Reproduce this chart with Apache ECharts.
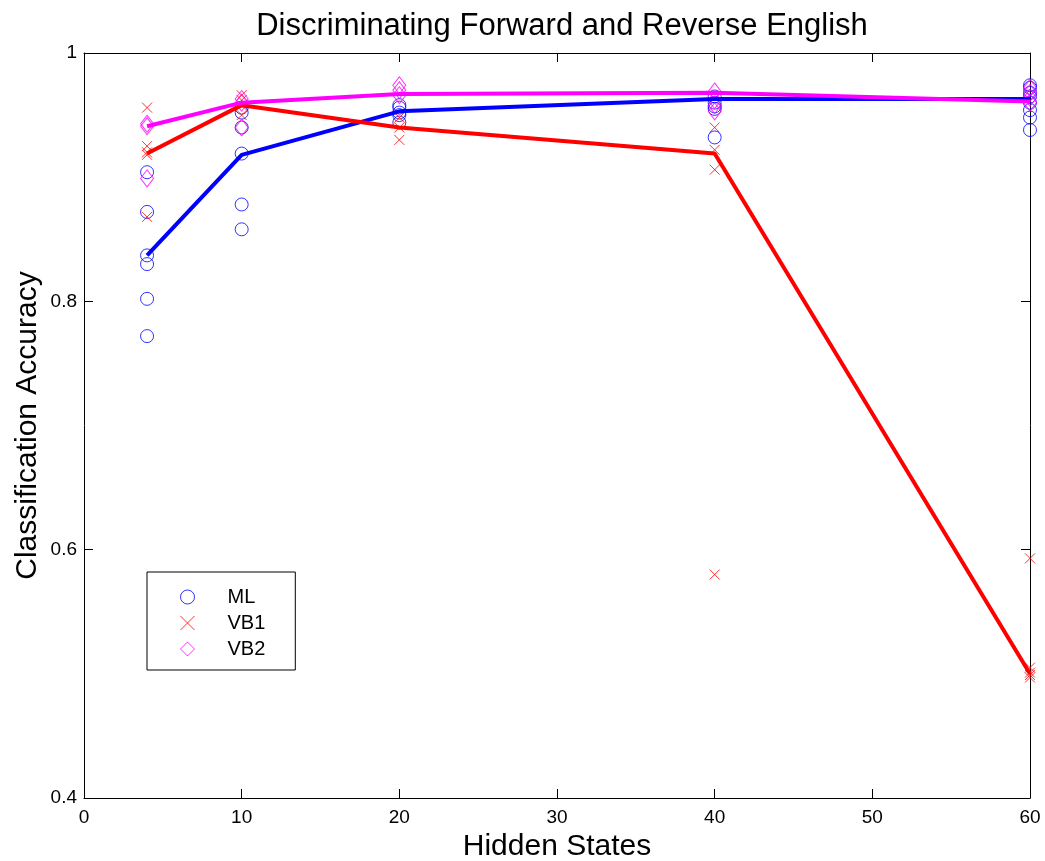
<!DOCTYPE html>
<html>
<head>
<meta charset="utf-8">
<script src="https://cdn.jsdelivr.net/npm/echarts@6/dist/echarts.min.js"></script>
<style>html,body{margin:0;padding:0;background:#fff}#c{width:1045px;height:861px}</style>
</head>
<body>
<div id="c"></div>
<script>
// ---- data ----
const hiddenStates = [4, 10, 20, 40, 60];
const mlLine  = [0.837, 0.918, 0.953, 0.963, 0.963];
const vb1Line = [0.919, 0.958, 0.940, 0.919, 0.500];
const vb2Line = [0.941, 0.960, 0.967, 0.968, 0.961];
const mlRuns = [
  [0.904, 0.872, 0.837, 0.830, 0.802, 0.772],
  [0.956, 0.952, 0.940, 0.919, 0.878, 0.858],
  [0.958, 0.956, 0.952, 0.950, 0.944],
  [0.965, 0.960, 0.957, 0.955, 0.932],
  [0.974, 0.972, 0.968, 0.965, 0.960, 0.954, 0.948, 0.938]
];
const vb1Runs = [
  [0.956, 0.925, 0.920, 0.918, 0.868],
  [0.966, 0.962, 0.958, 0.950],
  [0.948, 0.940, 0.930],
  [0.940, 0.922, 0.906, 0.580],
  [0.593, 0.505, 0.501, 0.499, 0.497]
];
const vb2Runs = [
  [0.943, 0.941, 0.899],
  [0.963, 0.960, 0.940],
  [0.974, 0.970, 0.966],
  [0.969, 0.962, 0.958, 0.953],
  [0.972, 0.968, 0.964, 0.960]
];
const seriesNames = ['ML', 'VB1', 'VB2'];
const titleText = 'Discriminating Forward and Reverse English';
const xName = 'Hidden States';
const yName = 'Classification Accuracy';

// ---- build ----
function pts(runs) {
  const out = [];
  runs.forEach((arr, i) => arr.forEach(v => out.push([hiddenStates[i], v])));
  return out;
}
function linePts(vals) { return vals.map((v, i) => [hiddenStates[i], v]); }

const FONT = 'Liberation Sans, Arial, sans-serif';
const BLUE = '#0000ff', RED = '#ff0000', MAG = '#ff00ff';
const crossPath = 'path://M0,0L10,10M10,0L0,10';

const chart = echarts.init(document.getElementById('c'));
const axisCommon = {
  axisLine: { show: true, onZero: false, lineStyle: { color: '#000', width: 1 } },
  axisTick: { show: true, inside: true, length: 9, lineStyle: { color: '#000' } },
  splitLine: { show: false }
};
chart.setOption({
  backgroundColor: '#fff',
  animation: false,
  textStyle: { fontFamily: FONT },
  title: {
    text: titleText, left: 557, top: 6, textAlign: 'center',
    textStyle: { fontFamily: FONT, fontSize: 31, fontWeight: 'normal', color: '#000' }
  },
  grid: { left: 84, right: 15, top: 53, bottom: 63, containLabel: false, outerBoundsMode: 'none' },
  legend: {
    data: seriesNames, orient: 'vertical', left: 147, top: 572,
    backgroundColor: '#fff', borderColor: '#000', borderWidth: 1, borderRadius: 0,
    padding: [14, 30, 10, 33], itemWidth: 14, itemHeight: 14, itemGap: 4,
    itemStyle: { borderWidth: 1 },
    textStyle: { fontFamily: FONT, fontSize: 20, color: '#000', lineHeight: 22, padding: [0, 0, 0, 28] }
  },
  xAxis: [
    Object.assign({}, axisCommon, {
      type: 'value', min: 0, max: 60, interval: 10, position: 'bottom',
      name: xName, nameLocation: 'middle', nameGap: 34, nameMoveOverlap: false,
      nameTextStyle: { fontFamily: FONT, fontSize: 30, color: '#000' },
      axisLabel: { fontFamily: FONT, fontSize: 19, color: '#000', margin: 10 }
    }),
    Object.assign({}, axisCommon, {
      type: 'value', min: 0, max: 60, interval: 10, position: 'top',
      axisLabel: { show: false }
    })
  ],
  yAxis: [
    Object.assign({}, axisCommon, {
      type: 'value', min: 0.4, max: 1, interval: 0.2, position: 'left',
      name: yName, nameLocation: 'middle', nameGap: 41, nameMoveOverlap: false,
      nameTextStyle: { fontFamily: FONT, fontSize: 30, color: '#000' },
      axisLabel: { fontFamily: FONT, fontSize: 19, color: '#000', margin: 7 }
    }),
    Object.assign({}, axisCommon, {
      type: 'value', min: 0.4, max: 1, interval: 0.2, position: 'right',
      axisLabel: { show: false }
    })
  ],
  series: [
    { name: 'ML', type: 'scatter', data: pts(mlRuns), symbol: 'circle', symbolSize: 13,
      itemStyle: { color: 'rgba(0,0,0,0)', borderColor: BLUE, borderWidth: 1 }, z: 2 },
    { name: 'VB1', type: 'scatter', data: pts(vb1Runs), symbol: crossPath, symbolSize: 10,
      itemStyle: { color: 'rgba(0,0,0,0)', borderColor: RED, borderWidth: 1 }, z: 2 },
    { name: 'VB2', type: 'scatter', data: pts(vb2Runs), symbol: 'diamond', symbolSize: [13, 17],
      itemStyle: { color: 'rgba(0,0,0,0)', borderColor: MAG, borderWidth: 1 }, z: 2 },
    { name: 'ML mean', type: 'line', data: linePts(mlLine), symbol: 'none',
      lineStyle: { color: BLUE, width: 4 }, itemStyle: { color: BLUE }, z: 3 },
    { name: 'VB1 mean', type: 'line', data: linePts(vb1Line), symbol: 'none',
      lineStyle: { color: RED, width: 4 }, itemStyle: { color: RED }, z: 4 },
    { name: 'VB2 mean', type: 'line', data: linePts(vb2Line), symbol: 'none',
      lineStyle: { color: MAG, width: 4 }, itemStyle: { color: MAG }, z: 5 }
  ]
});
</script>
</body>
</html>
